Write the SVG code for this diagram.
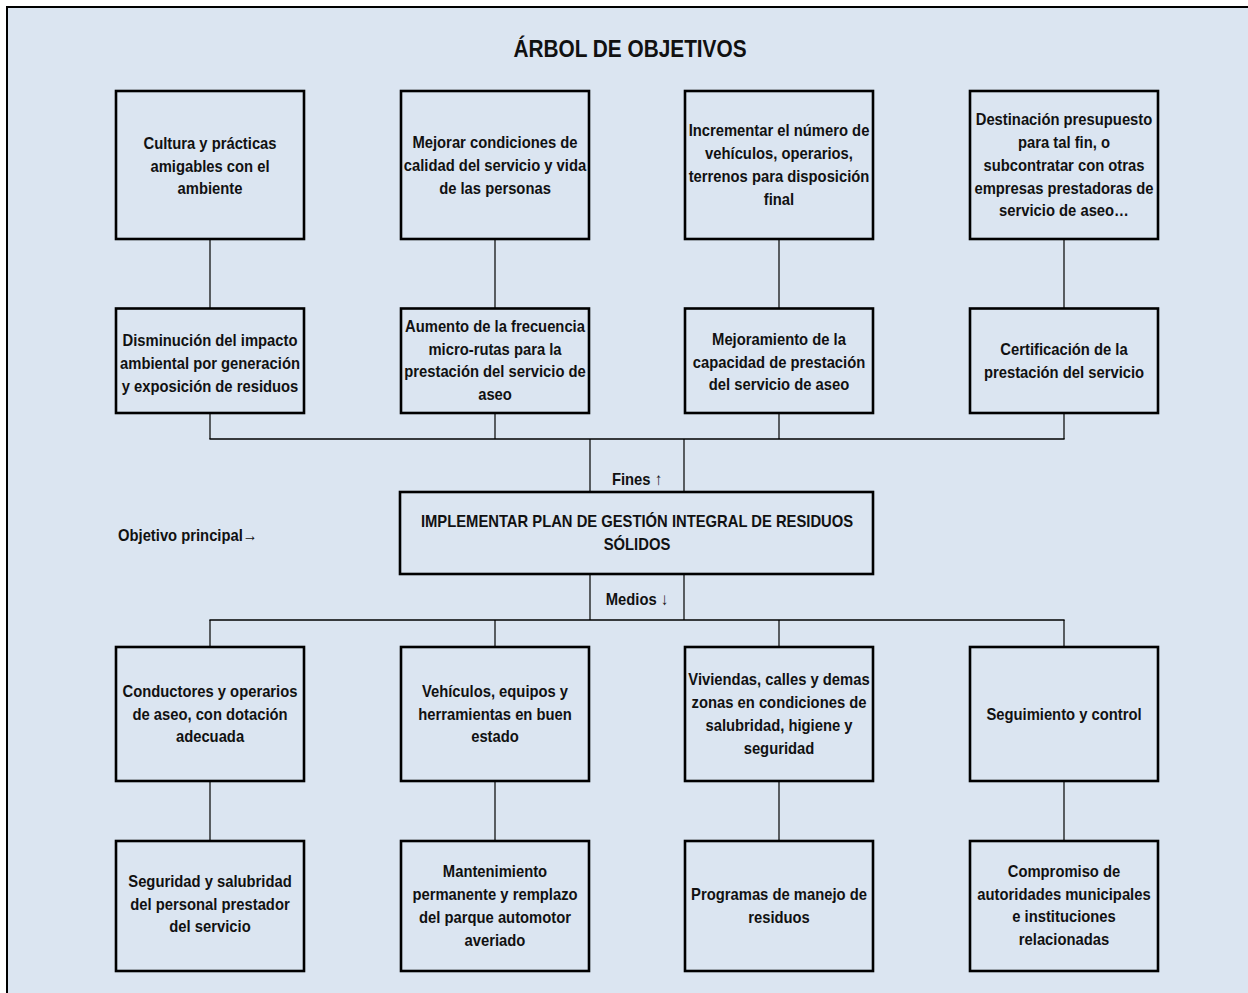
<svg xmlns="http://www.w3.org/2000/svg" width="1248" height="993" viewBox="0 0 1248 993">
  <style>
    .frame { fill: #dbe5f1; stroke: #000; stroke-width: 2; }
    .box { fill: #dbe5f1; stroke: #000; stroke-width: 2.6; }
    .h { stroke: #000; stroke-width: 1.6; fill: none; }
    .v { stroke: #000; stroke-width: 1.2; fill: none; }
    text { font-family: "Liberation Sans", Arial, sans-serif; font-weight: bold; font-size: 17px; fill: #111; }
    .c { text-anchor: middle; }
    .title { font-size: 23px; }
  </style>
  <rect class="frame" x="7" y="7" width="1260" height="1000"/>
  <text id="title" class="c title" transform="translate(630 0) scale(0.905 1)" x="0" y="57">ÁRBOL DE OBJETIVOS</text>

  <g id="connectors">
    <line class="v" x1="210" y1="240" x2="210" y2="308"/>
    <line class="v" x1="495" y1="240" x2="495" y2="308"/>
    <line class="v" x1="779" y1="240" x2="779" y2="308"/>
    <line class="v" x1="1064" y1="240" x2="1064" y2="308"/>
    <line class="v" x1="210" y1="413" x2="210" y2="439"/>
    <line class="v" x1="495" y1="413" x2="495" y2="439"/>
    <line class="v" x1="779" y1="413" x2="779" y2="439"/>
    <line class="v" x1="1064" y1="413" x2="1064" y2="439"/>
    <line class="h" x1="209.4" y1="439" x2="1064.6" y2="439"/>
    <line class="v" x1="590" y1="439" x2="590" y2="492"/>
    <line class="v" x1="684" y1="439" x2="684" y2="492"/>
    <line class="v" x1="590" y1="574" x2="590" y2="620"/>
    <line class="v" x1="684" y1="574" x2="684" y2="620"/>
    <line class="h" x1="209.4" y1="620" x2="1064.6" y2="620"/>
    <line class="v" x1="210" y1="620" x2="210" y2="647"/>
    <line class="v" x1="495" y1="620" x2="495" y2="647"/>
    <line class="v" x1="779" y1="620" x2="779" y2="647"/>
    <line class="v" x1="1064" y1="620" x2="1064" y2="647"/>
    <line class="v" x1="210" y1="781" x2="210" y2="841"/>
    <line class="v" x1="495" y1="781" x2="495" y2="841"/>
    <line class="v" x1="779" y1="781" x2="779" y2="841"/>
    <line class="v" x1="1064" y1="781" x2="1064" y2="841"/>
  </g>

  <!-- Row 1 -->
  <g id="n-cultura">
    <rect class="box" x="116" y="91" width="188" height="148"/>
    <text class="c" transform="translate(210 0) scale(0.87 1)"><tspan x="0" y="149">Cultura y prácticas</tspan><tspan x="0" y="171.7">amigables con el</tspan><tspan x="0" y="194.4">ambiente</tspan></text>
  </g>
  <g id="n-mejorar">
    <rect class="box" x="401" y="91" width="188" height="148"/>
    <text class="c" transform="translate(495 0) scale(0.87 1)"><tspan x="0" y="148.5">Mejorar condiciones de</tspan><tspan x="0" y="171.2">calidad del servicio y vida</tspan><tspan x="0" y="193.9">de las personas</tspan></text>
  </g>
  <g id="n-incrementar">
    <rect class="box" x="685" y="91" width="188" height="148"/>
    <text class="c" transform="translate(779 0) scale(0.87 1)"><tspan x="0" y="136.5">Incrementar el número de</tspan><tspan x="0" y="159.2">vehículos, operarios,</tspan><tspan x="0" y="181.9">terrenos para disposición</tspan><tspan x="0" y="204.6">final</tspan></text>
  </g>
  <g id="n-destinacion">
    <rect class="box" x="970" y="91" width="188" height="148"/>
    <text class="c" transform="translate(1064 0) scale(0.87 1)"><tspan x="0" y="125.5">Destinación presupuesto</tspan><tspan x="0" y="148.2">para tal fin, o</tspan><tspan x="0" y="170.9">subcontratar con otras</tspan><tspan x="0" y="193.6">empresas prestadoras de</tspan><tspan x="0" y="216.3">servicio de aseo…</tspan></text>
  </g>

  <!-- Row 2 -->
  <g id="n-disminucion">
    <rect class="box" x="116" y="308.5" width="188" height="104.5"/>
    <text class="c" transform="translate(210 0) scale(0.87 1)"><tspan x="0" y="346.5">Disminución del impacto</tspan><tspan x="0" y="369.2">ambiental por generación</tspan><tspan x="0" y="391.9">y exposición de residuos</tspan></text>
  </g>
  <g id="n-aumento">
    <rect class="box" x="401" y="308.5" width="188" height="104.5"/>
    <text class="c" transform="translate(495 0) scale(0.87 1)"><tspan x="0" y="332">Aumento de la frecuencia</tspan><tspan x="0" y="354.7">micro-rutas para la</tspan><tspan x="0" y="377.4">prestación del servicio de</tspan><tspan x="0" y="400.1">aseo</tspan></text>
  </g>
  <g id="n-mejoramiento">
    <rect class="box" x="685" y="308.5" width="188" height="104.5"/>
    <text class="c" transform="translate(779 0) scale(0.87 1)"><tspan x="0" y="345">Mejoramiento de la</tspan><tspan x="0" y="367.7">capacidad de prestación</tspan><tspan x="0" y="390.4">del servicio de aseo</tspan></text>
  </g>
  <g id="n-certificacion">
    <rect class="box" x="970" y="308.5" width="188" height="104.5"/>
    <text class="c" transform="translate(1064 0) scale(0.87 1)"><tspan x="0" y="355.5">Certificación de la</tspan><tspan x="0" y="378.2">prestación del servicio</tspan></text>
  </g>

  <!-- Center -->
  <g id="lbl-fines">
    <text class="c" transform="translate(637 0) scale(0.87 1)" x="0" y="485">Fines ↑</text>
  </g>
  <g id="n-objetivo">
    <rect class="box" x="400" y="492" width="473" height="82"/>
    <text class="c" transform="translate(637 0) scale(0.87 1)"><tspan x="0" y="526.7">IMPLEMENTAR PLAN DE GESTIÓN INTEGRAL DE RESIDUOS</tspan><tspan x="0" y="550">SÓLIDOS</tspan></text>
  </g>
  <g id="lbl-objetivo">
    <text transform="translate(118 0) scale(0.87 1)" x="0" y="541.5">Objetivo principal→</text>
  </g>
  <g id="lbl-medios">
    <text class="c" transform="translate(637 0) scale(0.87 1)" x="0" y="605">Medios ↓</text>
  </g>

  <!-- Row 3 -->
  <g id="n-conductores">
    <rect class="box" x="116" y="647" width="188" height="134"/>
    <text class="c" transform="translate(210 0) scale(0.87 1)"><tspan x="0" y="697">Conductores y operarios</tspan><tspan x="0" y="719.7">de aseo, con dotación</tspan><tspan x="0" y="742.4">adecuada</tspan></text>
  </g>
  <g id="n-vehiculos">
    <rect class="box" x="401" y="647" width="188" height="134"/>
    <text class="c" transform="translate(495 0) scale(0.87 1)"><tspan x="0" y="697">Vehículos, equipos y</tspan><tspan x="0" y="719.7">herramientas en buen</tspan><tspan x="0" y="742.4">estado</tspan></text>
  </g>
  <g id="n-viviendas">
    <rect class="box" x="685" y="647" width="188" height="134"/>
    <text class="c" transform="translate(779 0) scale(0.87 1)"><tspan x="0" y="685.5">Viviendas, calles y demas</tspan><tspan x="0" y="708.2">zonas en condiciones de</tspan><tspan x="0" y="730.9">salubridad, higiene y</tspan><tspan x="0" y="753.6">seguridad</tspan></text>
  </g>
  <g id="n-seguimiento">
    <rect class="box" x="970" y="647" width="188" height="134"/>
    <text class="c" transform="translate(1064 0) scale(0.87 1)" x="0" y="720">Seguimiento y control</text>
  </g>

  <!-- Row 4 -->
  <g id="n-seguridad">
    <rect class="box" x="116" y="841" width="188" height="130"/>
    <text class="c" transform="translate(210 0) scale(0.87 1)"><tspan x="0" y="887">Seguridad y salubridad</tspan><tspan x="0" y="909.7">del personal prestador</tspan><tspan x="0" y="932.4">del servicio</tspan></text>
  </g>
  <g id="n-mantenimiento">
    <rect class="box" x="401" y="841" width="188" height="130"/>
    <text class="c" transform="translate(495 0) scale(0.87 1)"><tspan x="0" y="877.5">Mantenimiento</tspan><tspan x="0" y="900.2">permanente y remplazo</tspan><tspan x="0" y="922.9">del parque automotor</tspan><tspan x="0" y="945.6">averiado</tspan></text>
  </g>
  <g id="n-programas">
    <rect class="box" x="685" y="841" width="188" height="130"/>
    <text class="c" transform="translate(779 0) scale(0.87 1)"><tspan x="0" y="900">Programas de manejo de</tspan><tspan x="0" y="922.7">residuos</tspan></text>
  </g>
  <g id="n-compromiso">
    <rect class="box" x="970" y="841" width="188" height="130"/>
    <text class="c" transform="translate(1064 0) scale(0.87 1)"><tspan x="0" y="877">Compromiso de</tspan><tspan x="0" y="899.7">autoridades municipales</tspan><tspan x="0" y="922.4">e instituciones</tspan><tspan x="0" y="945.1">relacionadas</tspan></text>
  </g>
</svg>
